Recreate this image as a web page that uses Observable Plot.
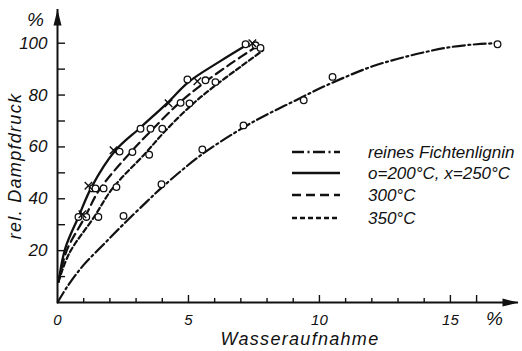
<!DOCTYPE html>
<html><head><meta charset="utf-8">
<script src="https://cdn.jsdelivr.net/npm/d3@7"></script>
<script src="https://cdn.jsdelivr.net/npm/@observablehq/plot@0.6"></script>
<style>
html,body{margin:0;padding:0;background:#fff;}
#chart{position:relative;width:522px;height:351px;overflow:hidden;}
#legend{position:absolute;left:0;top:0;}
#legend text{font-family:"Liberation Sans",Arial,sans-serif;font-style:italic;font-size:17px;fill:#111;}
</style></head><body><div id="chart"></div>
<script>
// ---- data ----
const xMinorTicks = [1, 2, 3, 4, 6, 7, 8, 9, 11, 12, 13, 14];
const xMajorTicks = [5, 10, 15, 16];
const xTickLabels = [0, 5, 10, 15];
const yTicks = [10, 20, 30, 40, 50, 60, 70, 80, 90, 100];
const yTickLabels = [20, 40, 60, 80, 100];
const xMax = 17.6, yMax = 113;

const seriesNames = ["reines Fichtenlignin", "o=200°C, x=250°C", "300°C", "350°C"];

const curveLignin = [[0,0],[0.4,6.5],[1,14.5],[1.8,22.8],[2.5,30],[3.4,38.8],[4,44.5],[5.5,57],[7.1,67.5],[8,72.5],[9,77.5],[10,82.5],[11,87],[12,91],[13,94],[14,96.5],[15,98.5],[16,99.6],[16.8,100]];
const curve200 = [[0.04,8],[0.3,21],[0.8,33],[1.3,44.5],[2.2,58.5],[3.17,67.5],[4.2,77],[5.0,85],[6.2,93],[7.3,99.8]];
const curve300 = [[0.04,8],[0.35,20],[1.05,33],[1.6,43.5],[2.8,58],[3.6,66.5],[4.6,76.5],[5.5,84],[6.6,92],[7.6,98.7]];
const curve350 = [[0.04,8],[0.45,19],[1.4,33],[2.1,44],[3.35,57.5],[4.1,66],[5.1,76],[6.0,83.5],[7.0,91],[7.85,97.3]];

const pointsLignin = [[2.52,33.4],[3.97,45.6],[5.53,59],[7.1,68.3],[9.4,78],[10.5,87],[16.8,99.6]];
const points200 = [[0.8,33],[1.34,44],[1.45,44],[2.37,58.2],[3.17,67],[4.96,86],[7.18,99.6]];
const crosses250 = [[0.95,34],[1.18,45],[2.14,58.7],[4.24,76.8],[5.34,85.3],[7.44,100]];
const points300 = [[1.1,33],[1.76,44],[2.86,58],[3.55,67],[4.7,77],[5.65,85.7],[7.56,99.2]];
const points350 = [[1.56,33],[2.25,44.5],[3.5,57],[4.0,67],[5.04,76.8],[6.03,85],[7.75,98.2]];

// ---- styles ----
const ink = "#111";
const font = '"Liberation Sans", Arial, sans-serif';
const dashLignin = "12,3.5,2,3.5";
const dash300 = "9,5";
const dash350 = "5,3";
const W = 522, H = 351, mL = 57, mR = 4, mT = 9, mB = 49;
const arrowHead = {draw(ctx) { ctx.moveTo(0, -9); ctx.lineTo(4, 7); ctx.lineTo(-4, 7); ctx.closePath(); }};
const px = d => d[0], py = d => d[1];
const titleText = {text: d => d, textAnchor: "middle", lineAnchor: "middle", fontStyle: "italic", fill: ink};

const plot = Plot.plot({
  width: W, height: H,
  marginLeft: mL, marginRight: mR, marginTop: mT, marginBottom: mB,
  x: {domain: [0, xMax]},
  y: {domain: [0, yMax]},
  style: {fontFamily: font, background: "white", color: ink, overflow: "visible"},
  marks: [
    Plot.ruleY([0], {stroke: ink, strokeWidth: 2}),
    Plot.ruleX([0], {stroke: ink, strokeWidth: 2}),
    Plot.dot([{x: xMax, y: 0}], {x: "x", y: "y", symbol: arrowHead, rotate: 90, fill: ink, stroke: "none", dx: -9}),
    Plot.dot([{x: 0, y: yMax}], {x: "x", y: "y", symbol: arrowHead, fill: ink, stroke: "none", dy: 9}),
    Plot.axisX(xMinorTicks, {anchor: "top", tickSize: 5, tickFormat: () => "", label: null, dy: H - mB - mT, strokeWidth: 1.4, stroke: ink}),
    Plot.axisX(xMajorTicks, {anchor: "top", tickSize: 8, tickFormat: () => "", label: null, dy: H - mB - mT, strokeWidth: 1.4, stroke: ink}),
    Plot.axisY(yTicks, {anchor: "right", tickSize: 7, tickFormat: () => "", label: null, dx: -(W - mR - mL), strokeWidth: 1.4, stroke: ink}),
    Plot.axisX(xTickLabels, {anchor: "bottom", tickSize: 0, tickPadding: 12, fontSize: 15, fontStyle: "italic", label: null, fill: ink}),
    Plot.axisY(yTickLabels, {anchor: "left", tickSize: 0, tickPadding: 10, fontSize: 17, fontStyle: "italic", label: null, fill: ink}),
    Plot.text(["rel. Dampfdruck"], {...titleText, frameAnchor: "left", rotate: -90, dx: -42, dy: 10, fontSize: 18}),
    Plot.text(["Wasseraufnahme"], {...titleText, frameAnchor: "bottom", dx: 12, dy: 37, fontSize: 18}),
    Plot.text(["%"], {...titleText, frameAnchor: "top-left", dx: -22, dy: 10, fontSize: 19}),
    Plot.text(["%"], {...titleText, frameAnchor: "bottom-right", dx: -24, dy: 16, fontSize: 19}),
    Plot.line(curveLignin, {x: px, y: py, curve: "catmull-rom", stroke: ink, strokeWidth: 2.2, strokeDasharray: dashLignin}),
    Plot.line(curve200, {x: px, y: py, curve: "catmull-rom", stroke: ink, strokeWidth: 2.3}),
    Plot.line(curve300, {x: px, y: py, curve: "catmull-rom", stroke: ink, strokeWidth: 2.2, strokeDasharray: dash300}),
    Plot.line(curve350, {x: px, y: py, curve: "catmull-rom", stroke: ink, strokeWidth: 2.2, strokeDasharray: dash350}),
    Plot.dot(pointsLignin, {x: px, y: py, r: 3.3, fill: "white", stroke: ink, strokeWidth: 1.3}),
    Plot.dot(points200, {x: px, y: py, r: 3.3, fill: "white", stroke: ink, strokeWidth: 1.3}),
    Plot.dot(points300, {x: px, y: py, r: 3.3, fill: "white", stroke: ink, strokeWidth: 1.3}),
    Plot.dot(points350, {x: px, y: py, r: 3.3, fill: "white", stroke: ink, strokeWidth: 1.3}),
    Plot.dot(crosses250, {x: px, y: py, r: 3.5, symbol: "times", stroke: ink, strokeWidth: 1.4})
  ]
});

d3.select(plot).selectAll("text")
  .filter(function() { return this.textContent === "Wasseraufnahme" || this.textContent === "rel. Dampfdruck"; })
  .style("letter-spacing", "1.3px");

const chart = document.getElementById("chart");
chart.appendChild(plot);

// legend overlay inside the plot area
const legendDashes = [dashLignin, null, dash300, dash350];
const rowY = [152, 173, 195, 218];
const leg = d3.select(chart).append("svg").attr("id", "legend").attr("width", W).attr("height", H);
seriesNames.forEach((name, i) => {
  leg.append("line").attr("x1", 292).attr("x2", 340).attr("y1", rowY[i]).attr("y2", rowY[i])
    .attr("stroke", ink).attr("stroke-width", 2.3)
    .attr("stroke-dasharray", legendDashes[i]);
  leg.append("text").attr("x", 368).attr("y", rowY[i]).attr("dy", "0.35em").text(name);
});
</script>
</body></html>
